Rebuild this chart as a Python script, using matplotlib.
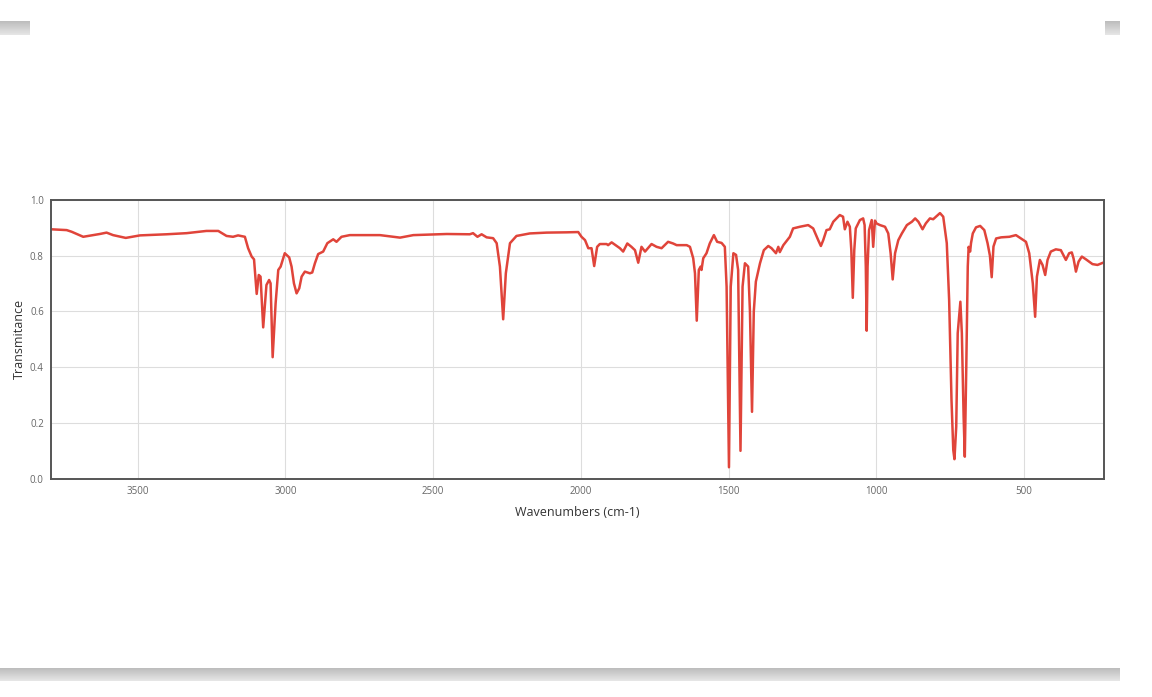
import numpy as np
import matplotlib
matplotlib.use("Agg")
import matplotlib.pyplot as plt

# IR spectrum (wavenumber in cm-1, transmittance)
wavenumbers = [3794, 3740, 3723, 3684, 3650, 3628, 3605, 3583, 3540, 3492, 3402, 3334,
               3267, 3227, 3199, 3177, 3160, 3137, 3126, 3114, 3106, 3097, 3090, 3084,
               3075, 3064, 3055, 3050, 3043, 3033, 3024, 3016, 3002, 2987, 2979, 2971,
               2962, 2953, 2945, 2934, 2917, 2909, 2900, 2889, 2872, 2858, 2838, 2827,
               2810, 2782, 2754, 2680, 2612, 2567, 2454, 2376, 2365, 2350, 2336, 2319,
               2297, 2285, 2274, 2263, 2254, 2240, 2218, 2173, 2116, 2048, 2009, 1998,
               1986, 1975, 1964, 1955, 1945, 1936, 1913, 1908, 1896, 1879, 1868, 1857,
               1843, 1829, 1817, 1806, 1795, 1783, 1761, 1744, 1727, 1705, 1688, 1676,
               1642, 1631, 1620, 1614, 1608, 1601, 1595, 1592, 1586, 1575, 1564, 1550,
               1539, 1524, 1513, 1507, 1499, 1493, 1484, 1475, 1468, 1460, 1453, 1445,
               1434, 1428, 1421, 1415, 1408, 1394, 1381, 1366, 1355, 1340, 1332, 1327,
               1315, 1293, 1282, 1259, 1231, 1214, 1197, 1188, 1180, 1169, 1158, 1146,
               1124, 1113, 1107, 1098, 1090, 1085, 1080, 1075, 1070, 1056, 1045, 1040,
               1036, 1033, 1030, 1025, 1016, 1011, 1005, 1000, 988, 971, 960, 952,
               945, 937, 926, 914, 897, 880, 869, 858, 844, 833, 819, 808,
               785, 774, 762, 754, 746, 740, 736, 730, 725, 716, 711, 705,
               701, 696, 691, 688, 683, 680, 674, 663, 649, 635, 624, 616,
               610, 604, 595, 578, 550, 528, 511, 494, 483, 471, 463, 457,
               447, 438, 429, 421, 410, 393, 376, 359, 348, 339, 333, 325,
               316, 305, 291, 269, 252, 233]
transmittance = [0.895, 0.892, 0.886, 0.868, 0.874, 0.878, 0.883, 0.874, 0.864, 0.873, 0.877, 0.881,
                 0.889, 0.889, 0.871, 0.868, 0.873, 0.868, 0.827, 0.797, 0.787, 0.663, 0.731, 0.725,
                 0.543, 0.695, 0.713, 0.701, 0.436, 0.629, 0.749, 0.761, 0.809, 0.794, 0.761, 0.701,
                 0.665, 0.683, 0.725, 0.743, 0.737, 0.740, 0.773, 0.806, 0.815, 0.845, 0.859, 0.850,
                 0.868, 0.874, 0.874, 0.874, 0.865, 0.874, 0.878, 0.877, 0.881, 0.868, 0.877, 0.866,
                 0.863, 0.845, 0.761, 0.572, 0.737, 0.845, 0.871, 0.880, 0.883, 0.884, 0.885, 0.868,
                 0.856, 0.827, 0.827, 0.763, 0.832, 0.842, 0.842, 0.838, 0.848, 0.835, 0.827, 0.815,
                 0.844, 0.832, 0.820, 0.775, 0.832, 0.815, 0.842, 0.832, 0.827, 0.850, 0.844, 0.838,
                 0.838, 0.832, 0.791, 0.737, 0.567, 0.749, 0.761, 0.749, 0.791, 0.809, 0.844, 0.874,
                 0.850, 0.846, 0.832, 0.689, 0.041, 0.689, 0.809, 0.803, 0.749, 0.100, 0.689, 0.773,
                 0.761, 0.600, 0.240, 0.600, 0.707, 0.773, 0.820, 0.835, 0.827, 0.809, 0.832, 0.813,
                 0.838, 0.868, 0.898, 0.904, 0.910, 0.898, 0.856, 0.835, 0.856, 0.892, 0.895, 0.922,
                 0.946, 0.940, 0.895, 0.922, 0.904, 0.820, 0.649, 0.820, 0.898, 0.928, 0.934, 0.910,
                 0.761, 0.531, 0.761, 0.892, 0.928, 0.832, 0.926, 0.916, 0.910, 0.904, 0.880, 0.809,
                 0.715, 0.809, 0.856, 0.880, 0.910, 0.922, 0.934, 0.922, 0.895, 0.916, 0.934, 0.931,
                 0.953, 0.940, 0.845, 0.641, 0.282, 0.103, 0.070, 0.187, 0.522, 0.635, 0.522, 0.222,
                 0.079, 0.402, 0.761, 0.832, 0.815, 0.845, 0.880, 0.902, 0.907, 0.892, 0.845, 0.800,
                 0.723, 0.833, 0.862, 0.866, 0.868, 0.874, 0.862, 0.850, 0.809, 0.701, 0.581, 0.725,
                 0.785, 0.767, 0.731, 0.785, 0.815, 0.823, 0.820, 0.785, 0.809, 0.812, 0.790, 0.743,
                 0.779, 0.797, 0.787, 0.770, 0.767, 0.775]

x_ticks = [3500, 3000, 2500, 2000, 1500, 1000, 500]
y_ticks = [0.0, 0.2, 0.4, 0.6, 0.8, 1.0]

plt.rcParams['font.family'] = ['Open Sans', 'DejaVu Sans']

fig = plt.figure(figsize=(11.52, 6.97), dpi=100)

# grey page bars around the chart
bg = fig.add_axes([0, 0, 1, 1])
bg.set_xlim(0, 1152)
bg.set_ylim(697, 0)
bg.axis('off')
grad = np.linspace(0.74, 0.90, 20).reshape(-1, 1)
for x0, x1, y0, y1 in [(0, 30, 21, 35), (1105, 1120, 21, 35), (0, 1120, 668, 681)]:
    bg.imshow(grad, cmap='gray', vmin=0, vmax=1, extent=(x0, x1, y1, y0), aspect='auto')

ax = fig.add_axes([50.7 / 1152, 1 - 478.7 / 697, (1104.3 - 50.7) / 1152, 278.7 / 697])
ax.plot(wavenumbers, transmittance, color='#e0443a', lw=1.8, solid_joinstyle='round')
ax.set_xlim(3794, 229)
ax.set_ylim(0, 1)
ax.set_xticks(x_ticks)
ax.set_xticklabels([str(t) for t in x_ticks])
ax.set_yticks(y_ticks)
ax.set_yticklabels(['%.1f' % t for t in y_ticks])
ax.tick_params(length=0, labelsize=7, labelcolor='#666666', pad=5)
ax.grid(True, color='#dddddd', lw=0.8)
ax.set_axisbelow(True)
for s in ax.spines.values():
    s.set_color('#555555')
    s.set_linewidth(1.4)
ax.set_xlabel('Wavenumbers (cm-1)', fontsize=9, color='#333333', labelpad=7)
ax.set_ylabel('Transmitance', fontsize=9, color='#333333', labelpad=3)

fig.savefig('out.png', dpi=100)
